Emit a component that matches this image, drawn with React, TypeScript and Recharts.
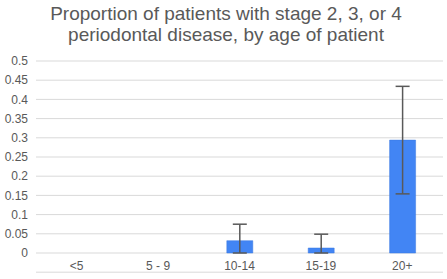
import React from "react";
import { BarChart, Bar, XAxis, YAxis, CartesianGrid, ErrorBar, ReferenceLine, Customized } from "recharts";

const categories = ["<5", "5 - 9", "10-14", "15-19", "20+"];
const proportions = [0, 0, 0.032, 0.013, 0.294];
const errorLower = [0, 0, 0.032, 0.013, 0.14];
const errorUpper = [0, 0, 0.043, 0.036, 0.14];
const yTicks = [0, 0.05, 0.1, 0.15, 0.2, 0.25, 0.3, 0.35, 0.4, 0.45, 0.5];
const titleLines = ["Proportion of patients with stage 2, 3, or 4", "periodontal disease, by age of patient"];

const data = categories.map((c, i) => ({ name: c, value: proportions[i], err: [errorLower[i], errorUpper[i]] }));

const FONT = "'Liberation Sans', Arial, sans-serif";

const Title = () => (
  <g>
    <text x={226} y={20} textAnchor="middle" fontFamily={FONT} fontSize={19} fill="#595959">
      {titleLines[0]}
    </text>
    <text x={226} y={41} textAnchor="middle" fontFamily={FONT} fontSize={19} fill="#595959">
      {titleLines[1]}
    </text>
  </g>
);

export default function App() {
  return (
    <div style={{ position: "absolute", left: 0, top: 0, width: 447, height: 279, background: "#fff" }}>
      <BarChart width={447} height={279} data={data} margin={{ top: 61, right: 4, left: 0, bottom: 6 }}>
        <CartesianGrid vertical={false} stroke="#d9d9d9" strokeWidth={1} />
        <XAxis
          dataKey="name"
          height={20}
          axisLine={false}
          tickLine={false}
          interval={0}
          tick={{ fill: "#595959", fontSize: 12, fontFamily: FONT }}
        />
        <YAxis
          width={36}
          domain={[0, 0.5]}
          ticks={yTicks}
          interval={0}
          axisLine={false}
          tickLine={false}
          tick={{ fill: "#595959", fontSize: 12, fontFamily: FONT }}
        />
        <ReferenceLine y={-0.05} stroke="#d9d9d9" ifOverflow="visible" />
        <Bar dataKey="value" fill="#4285F4" stroke="#3a78e0" strokeWidth={0.5} barSize={26} isAnimationActive={false}>
          <ErrorBar dataKey="err" width={7} stroke="#595959" strokeWidth={1.5} />
        </Bar>
        <Customized component={Title} />
      </BarChart>
    </div>
  );
}
